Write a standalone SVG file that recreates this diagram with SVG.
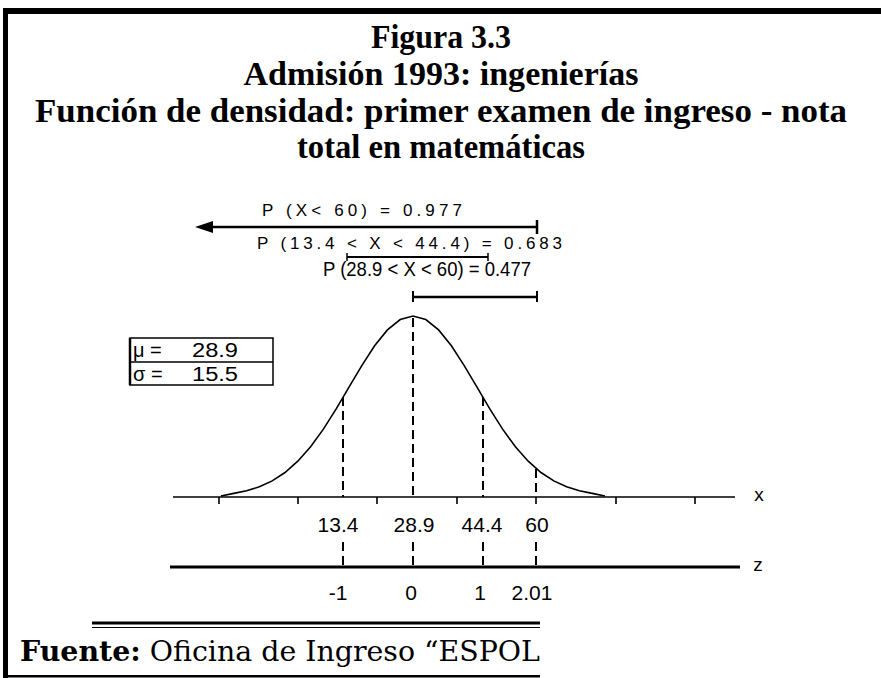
<svg xmlns="http://www.w3.org/2000/svg" width="881" height="678" viewBox="0 0 881 678">
<style>
.title{font-family:"Liberation Serif","Times New Roman",serif;font-weight:bold;font-size:34px;fill:#000;text-anchor:middle}
.lbl{font-family:"Liberation Sans",Arial,sans-serif;fill:#000}
.ax{font-family:"Liberation Sans",Arial,sans-serif;font-size:21px;fill:#000;text-anchor:middle}
.src{font-family:"DejaVu Serif","Liberation Serif",serif;font-size:28px;fill:#000}
.line{stroke:#000;fill:none}
.dash{stroke:#000;stroke-width:2;stroke-dasharray:9 5;fill:none}
</style>
<rect width="881" height="678" fill="#fff"/>
<g id="frame">
<rect x="3" y="8" width="878" height="6" fill="#000"/>
<rect x="3" y="8" width="5" height="670" fill="#000"/>
<rect x="3" y="675" width="537" height="2.5" fill="#000"/>
</g>
<g id="title">
<text class="title" x="441" y="48" textLength="140" lengthAdjust="spacingAndGlyphs">Figura 3.3</text>
<text class="title" x="441" y="85" textLength="395" lengthAdjust="spacingAndGlyphs">Admisión 1993:  ingenierías</text>
<text class="title" x="441" y="122" textLength="812" lengthAdjust="spacingAndGlyphs">Función de densidad: primer examen de ingreso - nota</text>
<text class="title" x="441" y="158" textLength="288" lengthAdjust="spacingAndGlyphs">total en matemáticas</text>
</g>
<g id="prob-labels">
<text class="lbl" x="262" y="216" font-size="17" textLength="200">P (X&lt; 60) = 0.977</text>
<text class="lbl" x="257" y="249" font-size="17" textLength="305">P (13.4 &lt; X &lt; 44.4) = 0.683</text>
<text class="lbl" x="323" y="276" font-size="20" textLength="208" lengthAdjust="spacingAndGlyphs">P (28.9 &lt; X &lt; 60) = 0.477</text>
</g>
<g id="connectors">
<line class="line" x1="208" y1="227" x2="537" y2="227" stroke-width="2.5"/>
<path d="M195,227 L213,221 L213,233 Z" fill="#000"/>
<line class="line" x1="537" y1="220" x2="537" y2="234" stroke-width="2.5"/>
<line class="line" x1="347" y1="257" x2="488" y2="257" stroke-width="2"/>
<line class="line" x1="347" y1="253" x2="347" y2="261" stroke-width="1.5"/>
<line class="line" x1="488" y1="253" x2="488" y2="261" stroke-width="1.5"/>
<line class="line" x1="413" y1="297" x2="537" y2="297" stroke-width="2.5"/>
<line class="line" x1="413" y1="291" x2="413" y2="302" stroke-width="2"/>
<line class="line" x1="537" y1="291" x2="537" y2="302" stroke-width="2"/>
</g>
<g id="params">
<rect x="130" y="338" width="143" height="47" fill="none" stroke="#000" stroke-width="1.5"/>
<line class="line" x1="130" y1="362" x2="273" y2="362" stroke-width="1.5"/>
<line class="line" x1="130" y1="338" x2="130" y2="385" stroke-width="2.5"/>
<text class="lbl" x="133" y="357" font-size="20">μ =  <tspan x="192" textLength="46" lengthAdjust="spacingAndGlyphs">28.9</tspan></text>
<text class="lbl" x="133" y="381" font-size="20">σ =  <tspan x="192" textLength="46" lengthAdjust="spacingAndGlyphs">15.5</tspan></text>
</g>
<g id="curve">
<polyline class="line" stroke-width="1.6" points="221,496 233.8,493.4 246.6,490.8 259.4,486.8 272.2,480.9 285,472.5 297.8,461.2 310.6,446.7 323.4,429.1 336.2,408.9 349,387.2 361.8,365.6 374.6,345.8 387.4,329.9 400.2,319.6 413,316 425.8,319.6 438.6,329.9 451.4,345.8 464.2,365.6 477,387.2 489.8,408.9 502.6,429.1 515.4,446.7 528.2,461.2 541,472.5 553.8,480.9 566.6,486.8 579.4,490.8 592.2,493.4 605,496"/>
</g>
<g id="x-axis">
<line class="line" x1="173" y1="497" x2="735" y2="497" stroke-width="1.6"/>
<path class="line" stroke-width="1.6" d="M219,497v7 M298,497v7 M377,497v7 M457,497v7 M536,497v7 M616,497v7 M695,497v7"/>
<text class="lbl" x="759" y="501" font-size="19" text-anchor="middle">x</text>
<text class="ax" x="338" y="532">13.4</text>
<text class="ax" x="414" y="532">28.9</text>
<text class="ax" x="482" y="532">44.4</text>
<text class="ax" x="537" y="532">60</text>
</g>
<g id="guides">
<line class="dash" x1="343" y1="397" x2="343" y2="497"/>
<line class="dash" x1="413" y1="318" x2="413" y2="497"/>
<line class="dash" x1="483" y1="397" x2="483" y2="497"/>
<line class="dash" x1="536" y1="469" x2="536" y2="497"/>
<line class="dash" x1="343" y1="542" x2="343" y2="567"/>
<line class="dash" x1="413" y1="542" x2="413" y2="567"/>
<line class="dash" x1="483" y1="542" x2="483" y2="567"/>
<line class="dash" x1="536" y1="542" x2="536" y2="567"/>
</g>
<g id="z-axis">
<line class="line" x1="170" y1="567" x2="740" y2="567" stroke-width="3"/>
<text class="lbl" x="758" y="571" font-size="19" text-anchor="middle">z</text>
<text class="ax" x="338" y="600">-1</text>
<text class="ax" x="411" y="600">0</text>
<text class="ax" x="480" y="600">1</text>
<text class="ax" x="532" y="600">2.01</text>
</g>
<g id="source">
<line class="line" x1="92" y1="623" x2="540" y2="623" stroke-width="3"/>
<line class="line" x1="92" y1="627.5" x2="540" y2="627.5" stroke-width="1"/>
<text class="src" x="20" y="661" textLength="520" lengthAdjust="spacingAndGlyphs"><tspan font-weight="bold">Fuente:</tspan> Oficina de Ingreso “ESPOL</text>
</g>
</svg>
